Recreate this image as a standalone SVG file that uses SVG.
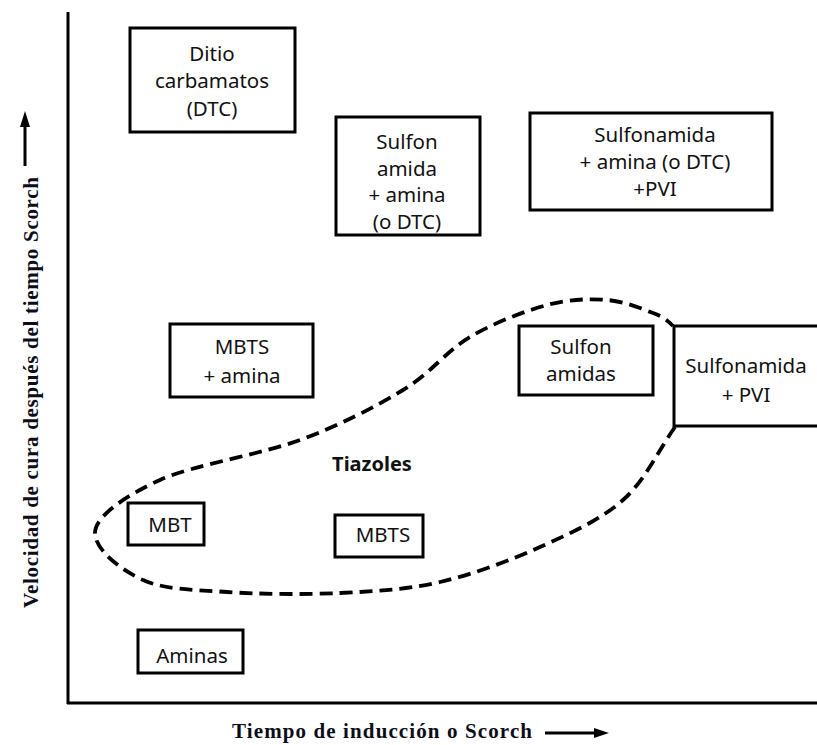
<svg xmlns="http://www.w3.org/2000/svg" width="817" height="745" viewBox="0 0 817 745">
<style>
.box{fill:#fff;stroke:#000;stroke-width:3}
.t{font-family:"Noto Sans","Open Sans",sans-serif;font-size:20.5px;fill:#111;text-anchor:middle}
.tb{font-family:"Noto Sans","Open Sans",sans-serif;font-size:20px;font-weight:bold;fill:#111;text-anchor:middle}
.ax{font-family:"Liberation Serif","Times New Roman",serif;font-size:21px;font-weight:bold;fill:#0d0d1a}
.axis{stroke:#000;stroke-width:3;fill:none}
.dash{fill:none;stroke:#000;stroke-width:3.8;stroke-dasharray:13 7;stroke-linecap:butt}
</style>
<rect width="817" height="745" fill="#fff"/>
<g id="axes">
<line class="axis" x1="68" y1="12" x2="68" y2="704"/>
<line class="axis" x1="67" y1="703" x2="817" y2="703"/>
<line x1="25" y1="166" x2="25" y2="122" stroke="#000" stroke-width="3"/>
<polygon points="25,111 20,127 30,127" fill="#000"/>
<text class="ax" transform="translate(38,608) rotate(-90)" textLength="431" lengthAdjust="spacing">Velocidad de cura después del tiempo Scorch</text>
<text class="ax" x="232" y="738" textLength="300" lengthAdjust="spacing">Tiempo de inducción o Scorch</text>
<line x1="545" y1="733" x2="597" y2="733" stroke="#000" stroke-width="3"/>
<polygon points="609,733 594,728 594,738" fill="#000"/>
</g>
<g id="connectors">
<path class="dash" d="M675,427 C658,451 645.5,480 623,500 C600.5,520 570.5,533.3 540,547 C509.5,560.7 473.3,574.3 440,582 C406.7,589.7 375.5,591.3 340,593 C304.5,594.7 259.8,594.2 227,592 C194.2,589.8 165,589.8 143,580 C121,570.2 95,549.7 95,533 C95,516.3 125.8,495.5 160,480 C194.2,464.5 259.5,455 300,440 C340.5,425 374.7,407.2 403,390 C431.3,372.8 446,351.2 470,337 C494,322.8 524.2,311.2 547,305 C569.8,298.8 589.3,298.7 607,300 C624.7,301.3 642,308.7 653,313 C664,317.3 667,320 673,326"/>
</g>
<g id="ditio">
<rect class="box" x="130" y="28" width="165" height="104"/>
<text class="t" x="212" y="61">Ditio</text>
<text class="t" x="212" y="88">carbamatos</text>
<text class="t" x="212" y="116">(DTC)</text>
</g>
<g id="sulfonamida-amina">
<rect class="box" x="336" y="117" width="144" height="118"/>
<text class="t" x="407" y="149">Sulfon</text>
<text class="t" x="407" y="176">amida</text>
<text class="t" x="407" y="202">+ amina</text>
<text class="t" x="407" y="229">(o DTC)</text>
</g>
<g id="sulfonamida-amina-pvi">
<rect class="box" x="530" y="113" width="242" height="97"/>
<text class="t" x="655" y="142">Sulfonamida</text>
<text class="t" x="655" y="169">+ amina (o DTC)</text>
<text class="t" x="655" y="196">+PVI</text>
</g>
<g id="mbts-amina">
<rect class="box" x="170" y="324" width="143" height="73"/>
<text class="t" x="242" y="354">MBTS</text>
<text class="t" x="242" y="383">+ amina</text>
</g>
<g id="sulfonamidas">
<rect class="box" x="519" y="326" width="134" height="69"/>
<text class="t" x="581" y="354">Sulfon</text>
<text class="t" x="581" y="381">amidas</text>
</g>
<g id="sulfonamida-pvi">
<rect class="box" x="674" y="326" width="150" height="100"/>
<text class="t" x="746" y="373">Sulfonamida</text>
<text class="t" x="746" y="402">+ PVI</text>
</g>
<g id="tiazoles">
<text class="tb" x="372" y="471">Tiazoles</text>
</g>
<g id="mbt">
<rect class="box" x="128" y="503" width="76" height="42"/>
<text class="t" x="170" y="532">MBT</text>
</g>
<g id="mbts">
<rect class="box" x="335" y="515" width="88" height="42"/>
<text class="t" x="383" y="542">MBTS</text>
</g>
<g id="aminas">
<rect class="box" x="138" y="630" width="105" height="43"/>
<text class="t" x="192" y="663">Aminas</text>
</g>
</svg>
